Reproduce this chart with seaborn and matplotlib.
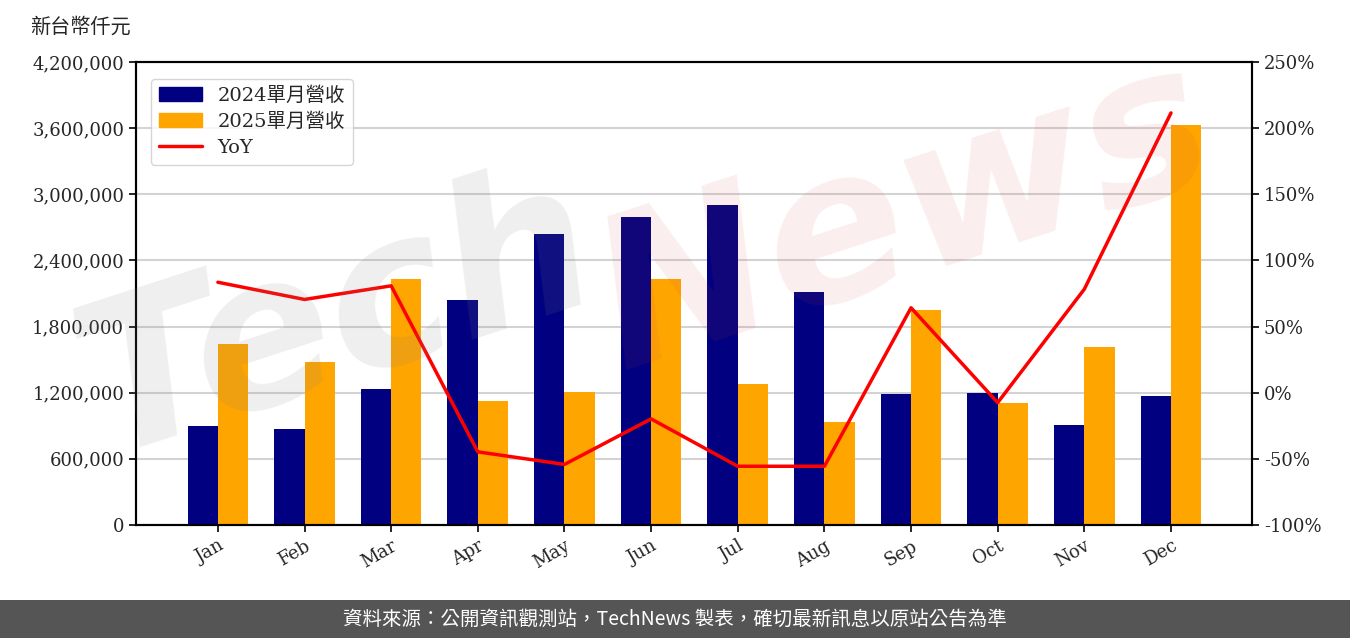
import matplotlib
matplotlib.use("Agg")
import matplotlib.pyplot as plt
from matplotlib.patches import Rectangle, Patch
from matplotlib.lines import Line2D
from matplotlib.ticker import FuncFormatter, FixedLocator
import seaborn as sns
import pandas as pd

months = ["Jan", "Feb", "Mar", "Apr", "May", "Jun", "Jul", "Aug", "Sep", "Oct", "Nov", "Dec"]
rev_2024 = [898000, 871000, 1234000, 2041000, 2640000, 2794000, 2903000, 2114000, 1188000, 1197000, 907000, 1170000]
rev_2025 = [1642000, 1479000, 2232000, 1125000, 1206000, 2232000, 1279000, 934000, 1950000, 1107000, 1615000, 3629000]
yoy_pct = [83.5, 70.5, 80.8, -44.7, -54.2, -19.8, -55.6, -55.6, 64.2, -7.5, 78.3, 211.5]
series_names = ["2024單月營收", "2025單月營收"]
line_name = "YoY"
unit_label = "新台幣仟元"
footer_text = "資料來源：公開資訊觀測站，TechNews 製表，確切最新訊息以原站公告為準"

sns.set_style("white")
plt.rcParams["font.family"] = ["DejaVu Serif", "Noto Sans CJK TC"]
plt.rcParams["axes.unicode_minus"] = False

df = pd.DataFrame({
    "month": months * 2,
    "value": rev_2024 + rev_2025,
    "series": [series_names[0]] * 12 + [series_names[1]] * 12,
})

fig = plt.figure(figsize=(13.5, 6.38), dpi=100)
ax = fig.add_axes([136 / 1350, 1 - 525 / 638, (1252 - 136) / 1350, (525 - 62) / 638])

colors = ["#000080", "#FFA500"]
sns.barplot(data=df, x="month", y="value", hue="series", palette=colors,
            width=0.7, saturation=1, ax=ax, legend=False, zorder=2, linewidth=0)

ax.set_ylim(0, 4200000)
ax.yaxis.set_major_locator(FixedLocator([i * 600000 for i in range(8)]))
ax.yaxis.set_major_formatter(FuncFormatter(lambda v, p: f"{int(v):,}"))
ax.grid(axis="y", color="#d3d3d3", linewidth=1.5, zorder=0)
ax.set_axisbelow(True)
ax.set_xlim(-0.945, 11.935)
ax.set_xlabel("")
ax.set_ylabel("")
ax.tick_params(axis="y", labelsize=13, length=5, width=1.2, left=True, direction="out", color="black")
ax.tick_params(axis="x", labelsize=13, length=5, width=1.2, bottom=True, direction="out", color="black")
plt.setp(ax.get_xticklabels(), rotation=30, ha="right", rotation_mode="anchor")
for s in ax.spines.values():
    s.set_color("black")
    s.set_linewidth(1.5)

ax2 = ax.twinx()
sns.lineplot(x=list(range(12)), y=yoy_pct, color="#FF0000", linewidth=2.5, ax=ax2, zorder=3)
ax2.set_ylim(-100, 250)
ax2.yaxis.set_major_locator(FixedLocator(list(range(-100, 251, 50))))
ax2.yaxis.set_major_formatter(FuncFormatter(lambda v, p: f"{int(v)}%"))
ax2.tick_params(axis="y", labelsize=13, length=5, width=1.2, right=True, direction="out", color="black")
ax2.set_xlim(-0.945, 11.935)
for s in ax2.spines.values():
    s.set_color("black")
    s.set_linewidth(1.5)

handles = [Patch(color=colors[0], label=series_names[0]),
           Patch(color=colors[1], label=series_names[1]),
           Line2D([0], [0], color="#FF0000", linewidth=2.5, label=line_name)]
leg = ax2.legend(handles=handles, loc="upper left", fontsize=14, frameon=True,
                 borderpad=0.4, handlelength=2.2, labelspacing=0.4,
                 bbox_to_anchor=(0.005, 0.985))
leg.get_frame().set_edgecolor("#cccccc")

fig.text(30 / 1350, 1 - 27 / 638, unit_label, fontsize=14.5, va="center", ha="left")

# watermark
fig.text(0.25, 0.50, "Tech", fontsize=150, color="#808080", alpha=0.13, rotation=18,
         ha="center", va="center", family="DejaVu Sans", style="italic", weight="bold", zorder=10)
fig.text(0.67, 0.66, "News", fontsize=150, color="#d04040", alpha=0.09, rotation=18,
         ha="center", va="center", family="DejaVu Sans", style="italic", weight="bold", zorder=10)

# footer
fig.patches.append(Rectangle((0, 0), 1, 38 / 638, transform=fig.transFigure,
                             facecolor="#555555", edgecolor="none", zorder=0))
fig.text(0.5, 19 / 638, footer_text, color="white", fontsize=14, ha="center", va="center",
         family=["Noto Sans CJK TC", "DejaVu Sans"])

fig.savefig("out.png", dpi=100)
